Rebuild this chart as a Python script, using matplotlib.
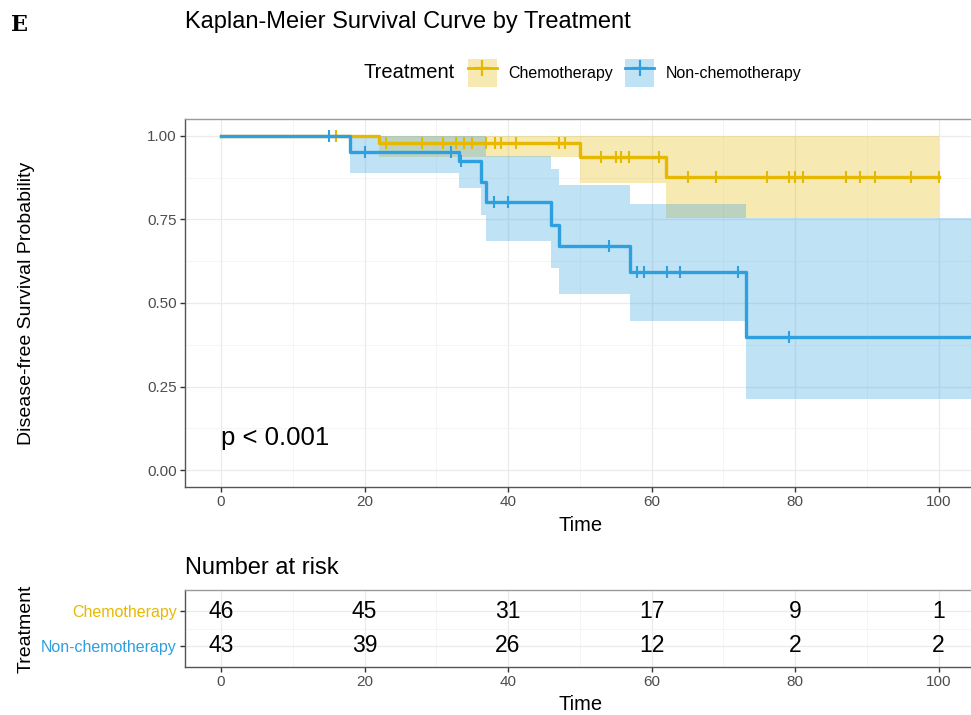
import numpy as np
import matplotlib.pyplot as plt
from matplotlib.lines import Line2D
from matplotlib.patches import Patch
from matplotlib.legend_handler import HandlerTuple

plt.rcParams['font.family'] = ['Liberation Sans', 'DejaVu Sans']

# Kaplan-Meier steps
chemo_t = [0, 22, 50, 62]
chemo_s = [1.0, 0.977, 0.937, 0.876]
chemo_lo = [1.0, 0.936, 0.860, 0.754]
chemo_hi = [1.0, 1.0, 1.0, 1.0]
chemo_end = 100
chemo_cens = [16, 23, 28, 31, 32.8, 33.8, 35, 36.9, 38.2, 39, 41.1, 47.1, 48,
              53, 55, 55.8, 56.9, 61, 65.1, 69, 76.1, 79.1, 80, 81.1, 87.1,
              89.1, 91.1, 96.1, 100]

non_t = [0, 18, 33.2, 36.2, 36.9, 46, 47.1, 57, 73.1]
non_s = [1.0, 0.95, 0.923, 0.863, 0.803, 0.734, 0.669, 0.594, 0.398]
non_lo = [1.0, 0.888, 0.843, 0.763, 0.684, 0.604, 0.526, 0.446, 0.212]
non_hi = [1.0, 1.0, 1.0, 1.0, 0.94, 0.90, 0.853, 0.796, 0.754]
non_end = 106
non_cens = [15, 20, 32.1, 33.5, 38.1, 40, 54, 58, 58.9, 62.1, 64, 72.1, 79.1]

risk_times = [0, 20, 40, 60, 80, 100]
risk_chemo = [46, 45, 31, 17, 9, 1]
risk_non = [43, 39, 26, 12, 2, 2]

groups = ['Chemotherapy', 'Non-chemotherapy']
colors = ['#E7B800', '#2E9FDF']


def km_steps(t, s, end):
  x = np.append(t, end)
  y = np.append(s, s[-1])
  return x, y


def surv_at(t, s, times):
  idx = np.searchsorted(t, times, side='right') - 1
  return np.asarray(s)[idx]


def style_axes(ax, labelsize):
  ax.set_facecolor('white')
  ax.grid(True, which='major', color='#EBEBEB', lw=0.9)
  ax.grid(True, which='minor', color='#F4F4F4', lw=0.6)
  ax.set_axisbelow(True)
  for side in ['top', 'right']:
    ax.spines[side].set_color('#9A9A9A')
  for side in ['left', 'bottom']:
    ax.spines[side].set_color('#555555')
  for sp in ax.spines.values():
    sp.set_linewidth(1.0)
  ax.tick_params(which='major', length=3.5, pad=2.5, color='#333333',
                 labelcolor='#4D4D4D', labelsize=labelsize, width=1)
  ax.tick_params(which='minor', length=0)


W, H = 971, 715
fig = plt.figure(figsize=(W / 100, H / 100), dpi=100)
x0, x1 = 185, 976
ax = fig.add_axes([x0 / W, 1 - 487 / H, (x1 - x0) / W, (487 - 119) / H])
axr = fig.add_axes([x0 / W, 1 - 667 / H, (x1 - x0) / W, (667 - 590) / H])

xlim = (-5.01, 105.2)
lab_x = (35 - x0) / (x1 - x0)

# survival panel
curves = [
  (chemo_t, chemo_s, chemo_lo, chemo_hi, chemo_end, chemo_cens),
  (non_t, non_s, non_lo, non_hi, non_end, non_cens),
]
for (t, s, lo, hi, end, cens), c in zip(curves, colors):
  xs, lo_s = km_steps(t, lo, end)
  _, hi_s = km_steps(t, hi, end)
  ax.fill_between(xs, lo_s, hi_s, step='post', color=c, alpha=0.3, lw=0)
for (t, s, lo, hi, end, cens), c in zip(curves, colors):
  xs, ys = km_steps(t, s, end)
  ax.step(xs, ys, where='post', color=c, lw=2.4)
  ax.plot(cens, surv_at(t, s, cens), ls='none', marker='|', ms=8.5, mew=1.5, color=c)

ax.text(0, 0.096, 'p < 0.001', fontsize=18.5, ha='left', va='center')
ax.set_xlim(*xlim)
ax.set_ylim(-0.05, 1.05)
ax.set_xticks([0, 20, 40, 60, 80, 100])
ax.set_xticks([10, 30, 50, 70, 90], minor=True)
ax.set_yticks([0, 0.25, 0.5, 0.75, 1.0])
ax.set_yticks([0.125, 0.375, 0.625, 0.875], minor=True)
ax.set_yticklabels(['0.00', '0.25', '0.50', '0.75', '1.00'])
style_axes(ax, 11)
ax.set_xlabel('Time', fontsize=14.5, labelpad=5)
ax.set_ylabel('Disease-free Survival Probability', fontsize=14)
ax.yaxis.set_label_coords(lab_x, 0.5)

# legend
handles = []
for c in colors:
  handles.append((Patch(facecolor=c, alpha=0.3, lw=0),
                  Line2D([], [], color=c, lw=2, marker='+', ms=11, mew=1.6)))
fig.text(363 / W, 1 - 73 / H, 'Treatment', fontsize=14.5, va='center', ha='left')
leg = fig.legend(handles, groups, ncol=2, loc='center left',
                 bbox_to_anchor=(460 / W, 1 - 73 / H), frameon=False,
                 handler_map={tuple: HandlerTuple(ndivide=1)},
                 fontsize=11.5, handlelength=1.8, handleheight=2.4,
                 handletextpad=0.7, columnspacing=0.8, borderpad=0)

fig.text(185 / W, 1 - 22 / H, 'Kaplan-Meier Survival Curve by Treatment',
         fontsize=17, va='center', ha='left')
fig.text(11 / W, 1 - 25 / H, 'E', fontsize=16, fontweight='bold',
         family='DejaVu Serif', va='center', ha='left')

# risk table
for vals, ypos in [(risk_chemo, 2), (risk_non, 1)]:
  for tt, v in zip(risk_times, vals):
    axr.text(tt, ypos, str(v), fontsize=16.5, ha='center', va='center')
axr.set_xlim(*xlim)
axr.set_ylim(0.4, 2.6)
axr.set_xticks([0, 20, 40, 60, 80, 100])
axr.set_xticks([10, 30, 50, 70, 90], minor=True)
axr.set_yticks([1, 2])
axr.set_yticks([1.5], minor=True)
axr.set_yticklabels(['Non-chemotherapy', 'Chemotherapy'])
style_axes(axr, 11)
axr.tick_params(axis='y', labelsize=11.5)
for lab, c in zip(axr.get_yticklabels(), ['#2E9FDF', '#E7B800']):
  lab.set_color(c)
axr.set_xlabel('Time', fontsize=14.5, labelpad=4)
axr.set_ylabel('Treatment', fontsize=14)
axr.yaxis.set_label_coords(lab_x, 0.5)
fig.text(185 / W, 1 - 568 / H, 'Number at risk', fontsize=17, va='center', ha='left')

fig.savefig('out.png', dpi=100)
